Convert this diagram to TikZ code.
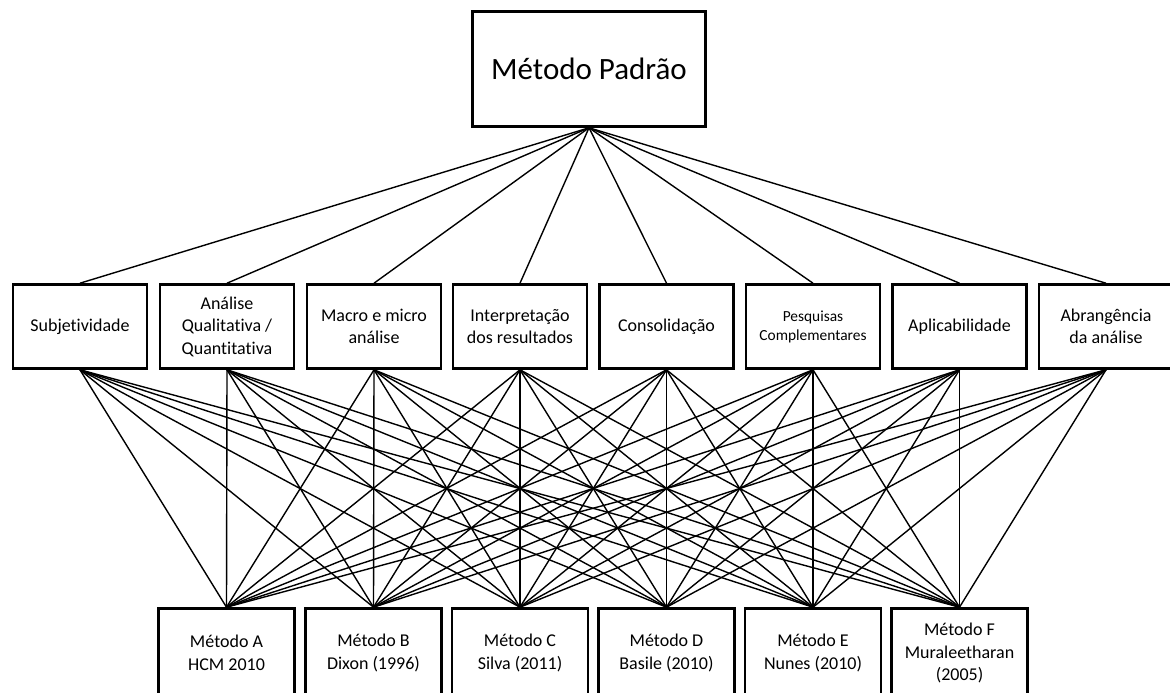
\documentclass[tikz,border=0pt]{standalone}
\usepackage{fontspec}
\setmainfont{Carlito}[Ligatures=CommonOff]
\begin{document}
\begin{tikzpicture}[x=1pt,y=-1pt,
  box/.style={draw, line width=2.6pt, align=center, inner sep=2pt,
    font=\fontsize{18}{22.5}\selectfont},
  midbox/.style={box, minimum width=134pt, minimum height=84pt},
  lowbox/.style={box, minimum width=136pt, minimum height=89pt},
  conn/.style={line width=1.4pt}]
\useasboundingbox (0,0) rectangle (1170,693);
\clip (0,0) rectangle (1170,693);
\fill[white] (0,0) rectangle (1170,693);

\node[box, minimum width=233pt, minimum height=115pt,
  font=\fontsize{31}{36}\selectfont] (top) at (589,69) {Método Padrão};

\node[midbox] (m1) at (80,326.5) {Subjetividade};
\node[midbox] (m2) at (227,326.5) {Análise\\Qualitativa /\\Quantitativa};
\node[midbox] (m3) at (374,326.5) {Macro e micro\\análise};
\node[midbox] (m4) at (520,326.5) {Interpretação\\dos resultados};
\node[midbox] (m5) at (666.5,326.5) {Consolidação};
\node[midbox, font=\fontsize{15.4}{19}\selectfont] (m6) at (813,326.5) {Pesquisas\\Complementares};
\node[midbox] (m7) at (959.5,326.5) {Aplicabilidade};
\node[midbox] (m8) at (1106,326.5) {Abrangência\\da análise};

\node[lowbox] (b1) at (226.5,653) {Método A\\HCM 2010};
\node[lowbox] (b2) at (373.5,653) {Método B\\Dixon (1996)};
\node[lowbox] (b3) at (520,653) {Método C\\Silva (2011)};
\node[lowbox] (b4) at (666.5,653) {Método D\\Basile (2010)};
\node[lowbox] (b5) at (813,653) {Método E\\Nunes (2010)};
\node[lowbox] (b6) at (959.5,653) {Método F\\Muraleetharan\\(2005)};

\foreach \i in {1,...,8} {
  \draw[conn] (top.south) -- (m\i.north);
  \foreach \j in {1,...,6} {
    \draw[conn] (m\i.south) -- (b\j.north);
  }
}
\end{tikzpicture}
\end{document}
